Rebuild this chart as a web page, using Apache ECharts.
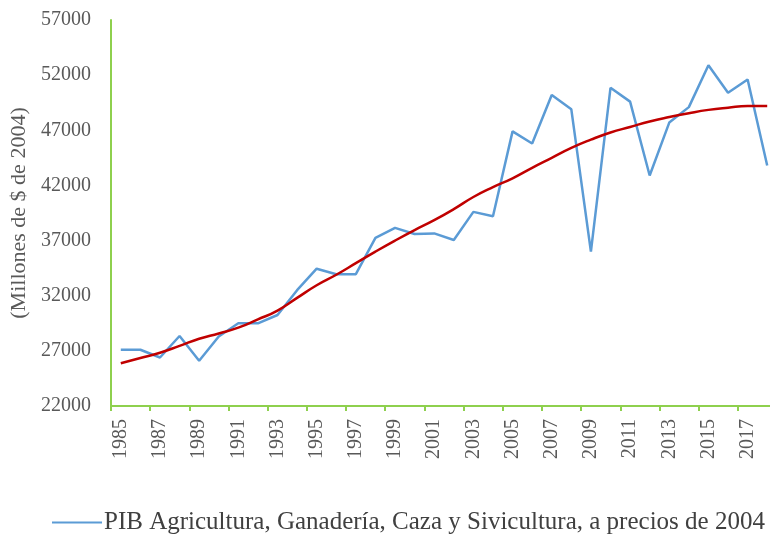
<!DOCTYPE html>
<html><head><meta charset="utf-8">
<script src="https://cdn.jsdelivr.net/npm/echarts@6/dist/echarts.min.js"></script>
<style>html,body{margin:0;padding:0;background:#fff}#c{width:770px;height:535px}</style>
</head><body><div id="c"></div>
<script>
const years = ['1985','1986','1987','1988','1989','1990','1991','1992','1993','1994','1995','1996','1997','1998','1999','2000','2001','2002','2003','2004','2005','2006','2007','2008','2009','2010','2011','2012','2013','2014','2015','2016','2017','2018'];
const pib = [27100,27100,26400,28350,26100,28300,29500,29500,30250,32500,34450,33950,33950,37250,38150,37600,37650,37050,39600,39200,46900,45800,50200,48900,36000,50850,49600,42900,47700,49100,52900,50400,51600,43800];
const trend = [25870,26350,26830,27450,28100,28580,29100,29850,30650,31800,32950,33900,34950,36000,37000,37950,38850,39850,40950,41850,42650,43600,44500,45400,46150,46800,47300,47800,48200,48550,48850,49050,49200,49200];
const yTitle = '(Millones de $ de 2004)';
const seriesName = 'PIB Agricultura, Ganadería, Caza y Sivicultura, a precios de 2004';

const chart = echarts.init(document.getElementById('c'), null, {renderer:'canvas'});
const green = '#8ED04E';
const font = '"Liberation Serif", "Times New Roman", serif';
chart.setOption({
  animation:false,
  textStyle:{fontFamily:font},
  grid:{left:111, top:20, width:666, height:386, containLabel:false, outerBoundsMode:'none'},
  legend:{
    data:[{name:seriesName, icon:'path://M0,0 L50,0 L50,2 L0,2 Z'}],
    left:52, top:510, itemWidth:50, itemHeight:2, itemGap:4, padding:0,
    textStyle:{fontFamily:font, fontSize:25, color:'#404040', padding:[0,0,0,-3]}
  },
  xAxis:{
    type:'category', data:years, boundaryGap:true,
    axisLine:{lineStyle:{color:green, width:2}},
    axisTick:{show:true, interval:1, alignWithLabel:false, length:5, lineStyle:{color:green, width:2}},
    axisLabel:{interval:1, rotate:90, fontFamily:font, fontSize:20, color:'#595959', margin:13}
  },
  yAxis:{
    type:'value', min:22000, max:57000, interval:5000,
    name:yTitle, nameLocation:'middle', nameGap:78,
    nameTextStyle:{fontFamily:font, fontSize:22, color:'#595959'},
    axisLine:{show:true, lineStyle:{color:green, width:2}},
    axisTick:{show:false},
    splitLine:{show:false},
    axisLabel:{fontFamily:font, fontSize:20, color:'#595959', margin:20, formatter:function(v){return String(v);}}
  },
  series:[
    {name:seriesName, type:'line', data:pib, symbol:'none', lineStyle:{color:'#5B9BD5', width:2.5}, itemStyle:{color:'#5B9BD5'}},
    {name:'trend', type:'line', data:trend, symbol:'none', smooth:true, lineStyle:{color:'#C00000', width:2.5}, itemStyle:{color:'#C00000'}}
  ]
});
</script></body></html>
